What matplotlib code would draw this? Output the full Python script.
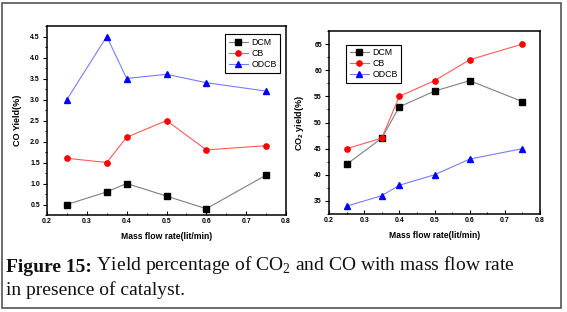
import numpy as np
import matplotlib
matplotlib.use("Agg")
import matplotlib.pyplot as plt
from matplotlib.patches import Rectangle
from matplotlib.ticker import MultipleLocator

plt.rcParams['font.family'] = ['Liberation Sans', 'DejaVu Sans']
plt.rcParams['mathtext.fontset'] = 'custom'
plt.rcParams['mathtext.rm'] = 'Liberation Serif'
plt.rcParams['mathtext.bf'] = 'Liberation Sans:bold'

# data
flow = [0.25, 0.35, 0.4, 0.5, 0.6, 0.75]
co_dcm = [0.5, 0.8, 1.0, 0.7, 0.4, 1.2]
co_cb = [1.6, 1.5, 2.1, 2.5, 1.8, 1.9]
co_odcb = [3.0, 4.5, 3.5, 3.6, 3.4, 3.2]
co2_dcm = [42, 47, 53, 56, 58, 54]
co2_cb = [45, 47, 55, 58, 62, 65]
co2_odcb = [34, 36, 38, 40, 43, 45]
names = ["DCM", "CB", "ODCB"]
xticks = [0.2, 0.3, 0.4, 0.5, 0.6, 0.7, 0.8]

W, H = 567, 312
fig = plt.figure(figsize=(W / 100, H / 100), dpi=100)

# outer frame
fig.patches.append(Rectangle((2 / W, 4 / H), 559 / W, 305 / H, transform=fig.transFigure,
                             fill=False, edgecolor='#555555', linewidth=1.2))

styles = [dict(color='#7f7f7f', marker='s', mfc='black', mec='black'),
          dict(color='#ff5a5a', marker='o', mfc='red', mec='red'),
          dict(color='#7a7aff', marker='^', mfc='blue', mec='blue')]


def setup(ax, ylabel, ymaj, ymin, ylim):
    ax.set_xlim(0.2, 0.8)
    ax.set_ylim(*ylim)
    ax.set_xticks(xticks)
    ax.set_xticklabels([str(v) for v in xticks])
    ax.xaxis.set_minor_locator(MultipleLocator(0.05))
    ax.yaxis.set_major_locator(MultipleLocator(ymaj))
    ax.yaxis.set_minor_locator(MultipleLocator(ymin))
    ax.tick_params(axis='x', which='both', direction='in', top=False)
    ax.tick_params(axis='y', which='both', direction='out', right=False)
    ax.tick_params(which='major', length=3, width=0.8, labelsize=5, pad=2)
    ax.tick_params(which='minor', length=1.8, width=0.7)
    for lab in ax.get_xticklabels() + ax.get_yticklabels():
        lab.set_fontweight('bold')
    for s in ax.spines.values():
        s.set_linewidth(1.1)
    ax.set_xlabel("Mass flow rate(lit/min)", fontsize=6.2, fontweight='bold', labelpad=5)
    ax.set_ylabel(ylabel, fontsize=6.5, fontweight='bold', labelpad=6)


ax1 = fig.add_axes([47 / W, (H - 215) / H, 239 / W, 189 / H])
for vals, nm, st in zip([co_dcm, co_cb, co_odcb], names, styles):
    ax1.plot(flow, vals, linewidth=0.8, markersize=3.8, label=nm, **st)
setup(ax1, "CO Yield(%)", 0.5, 0.25, (0.25, 4.75))
ax1.legend(loc='upper right', bbox_to_anchor=(0.995, 0.98), fontsize=6.3, fancybox=False,
           edgecolor='black', framealpha=1, handlelength=2.2, labelspacing=0.25,
           borderpad=0.4, handletextpad=0.4).get_frame().set_linewidth(0.8)

ax2 = fig.add_axes([329 / W, (H - 214) / H, 211 / W, 183 / H])
for vals, nm, st in zip([co2_dcm, co2_cb, co2_odcb], names, styles):
    ax2.plot(flow, vals, linewidth=0.8, markersize=3.8, label=nm, **st)
setup(ax2, r"CO$_\mathbf{2}$ yield(%)", 5, 2.5, (32.5, 67.5))
ax2.legend(loc='upper left', bbox_to_anchor=(0.06, 0.95), fontsize=6.3, fancybox=False,
           edgecolor='black', framealpha=1, handlelength=2.2, labelspacing=0.25,
           borderpad=0.4, handletextpad=0.4).get_frame().set_linewidth(0.8)

# caption
t1 = fig.text(6 / W, 1 - 272 / H, "Figure 15:", fontsize=14, fontweight='bold',
              family='Liberation Serif', va='baseline', color='#111111')
ax1.annotate(r" Yield percentage of CO$_\mathrm{2}$ and CO with mass flow rate",
             xy=(1, 0), xycoords=t1, va='bottom', ha='left', fontsize=14,
             family='Liberation Serif', color='#111111', annotation_clip=False)
fig.text(6 / W, 1 - 295 / H, "in presence of catalyst.", fontsize=14,
         family='Liberation Serif', va='baseline', color='#111111')

fig.savefig("out.png", dpi=100)
